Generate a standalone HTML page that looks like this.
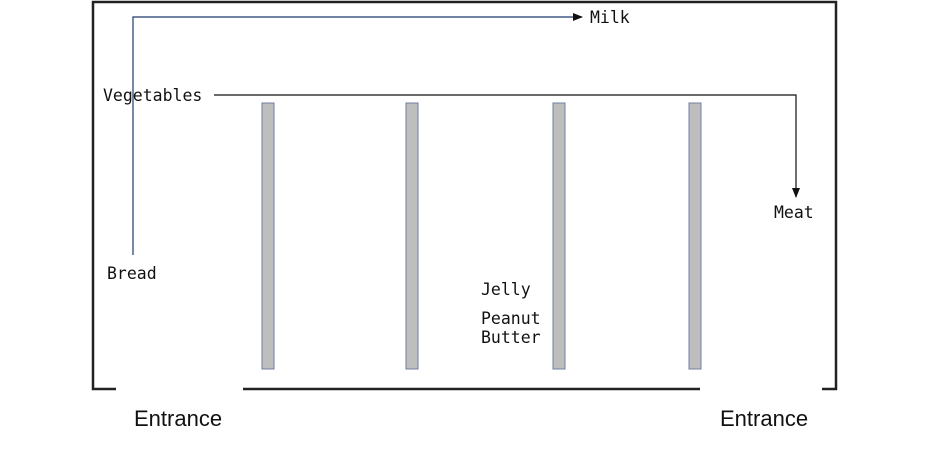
<!DOCTYPE html>
<html><head><meta charset="utf-8">
<style>
html,body{margin:0;padding:0;background:#fff;}
svg{display:block;}
.lbl{font-family:"DejaVu Sans Mono","Liberation Mono",monospace;font-size:16.5px;fill:#111;}
.ent{font-family:"Liberation Sans",sans-serif;font-size:22px;fill:#111;}
</style></head>
<body>
<svg id="map" width="928" height="450" viewBox="0 0 928 450">
  <defs>
    <marker id="arr" markerWidth="10" markerHeight="8" refX="9" refY="4" orient="auto" markerUnits="userSpaceOnUse">
      <path d="M0,0 L10,4 L0,8 Z" fill="#111"/>
    </marker>
  </defs>
  <g stroke="#222" stroke-width="2.5" fill="none">
    <polyline points="116,389 93,389 93,2 836,2 836,389 822,389"/>
    <line x1="243" y1="389" x2="700" y2="389"/>
  </g>
  <g id="shelves"></g>
  <polyline points="133,255 133,17 582,17" stroke="#1f3a6e" stroke-width="1.2" fill="none" marker-end="url(#arr)"/>
  <polyline points="214,95 796,95 796,197" stroke="#111" stroke-width="1.2" fill="none" marker-end="url(#arr)"/>
  <text class="lbl" x="590" y="23">Milk</text>
  <text class="lbl" x="103" y="101">Vegetables</text>
  <text class="lbl" x="774" y="218">Meat</text>
  <text class="lbl" x="107" y="279">Bread</text>
  <text class="lbl" x="481" y="295">Jelly</text>
  <text class="lbl" x="481" y="324">Peanut</text>
  <text class="lbl" x="481" y="343">Butter</text>
  <text class="ent" x="134" y="426">Entrance</text>
  <text class="ent" x="720" y="426">Entrance</text>
</svg>
<script>
const shelfX = [262, 406, 553, 689];
const shelfTop = 103, shelfBottom = 369, shelfW = 12;
const g = document.getElementById('shelves');
shelfX.forEach((x, i) => {
  const r = document.createElementNS('http://www.w3.org/2000/svg', 'rect');
  r.setAttribute('x', x);
  r.setAttribute('y', shelfTop);
  r.setAttribute('width', shelfW);
  r.setAttribute('height', shelfBottom - shelfTop);
  r.setAttribute('fill', '#bebebe');
  r.setAttribute('stroke', '#6f7fa0');
  r.setAttribute('stroke-width', '1');
  
  
  g.appendChild(r);
});
</script>
</body></html>
